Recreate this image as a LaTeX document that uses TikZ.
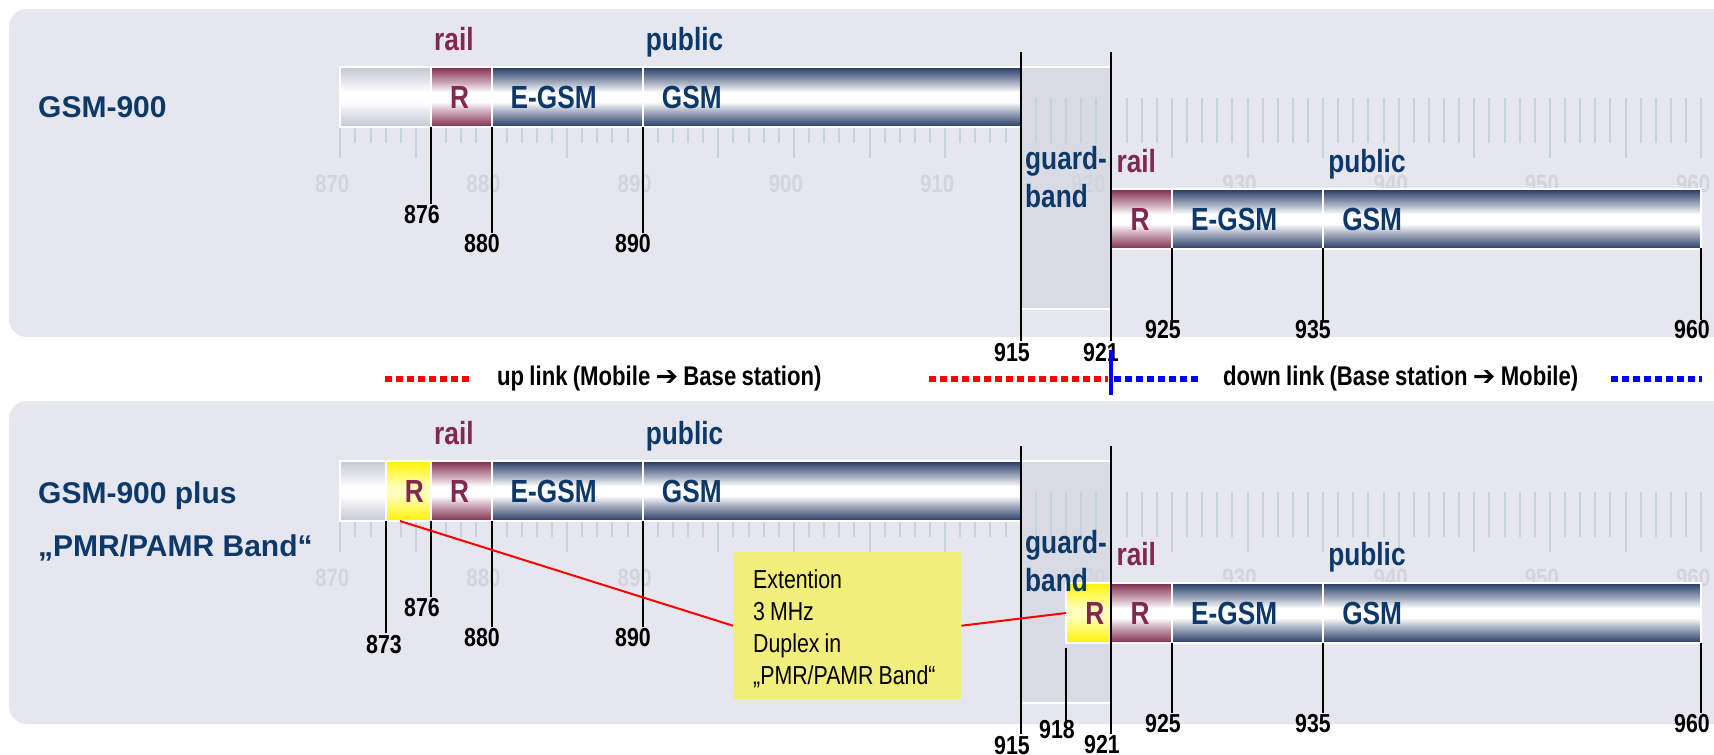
\documentclass[tikz,border=0pt]{standalone}
\usepackage{fontspec}
\setmainfont{Liberation Sans}
\newfontfamily\narrowfont[FakeStretch=0.82,WordSpace=0.85]{Liberation Sans}
\newfontfamily\symfont{DejaVu Sans}
\usetikzlibrary{calc}

\definecolor{panelbg}{RGB}{229,230,238}
\definecolor{guardbg}{RGB}{216,219,228}
\definecolor{navytext}{RGB}{12,56,106}
\definecolor{maroontext}{RGB}{130,40,80}
\definecolor{navydark}{RGB}{35,55,100}
\definecolor{maroondark}{RGB}{128,40,75}
\definecolor{graydark}{RGB}{196,199,212}
\definecolor{yel}{RGB}{255,242,0}
\definecolor{yelmid}{RGB}{255,255,185}
\definecolor{tickc}{RGB}{196,210,222}
\definecolor{scalec}{RGB}{212,213,220}
\definecolor{calloutc}{RGB}{242,238,122}
\definecolor{legblue}{RGB}{0,0,255}

\newcommand\mkshade[3]{\pgfdeclareverticalshading{#1}{100bp}{color(0bp)=(#2); color(25bp)=(#2); color(28bp)=(#2!85!#3); color(38bp)=(#2!40!#3); color(46bp)=(#3); color(54bp)=(#3); color(62bp)=(#2!40!#3); color(72bp)=(#2!85!#3); color(75bp)=(#2); color(100bp)=(#2)}}
\mkshade{navyS}{navydark}{white}
\mkshade{maroonS}{maroondark}{white}
\mkshade{grayS}{graydark}{white}
\mkshade{yelS}{yel}{yelmid}

% segment box: name, f1, f2, ytop, shading
\newcommand\bseg[5]{\node[segbox, shading=#5, minimum width={fx(#3)-fx(#2)}, anchor=north west] (#1) at ({fx(#2)},#4) {};}
% segment label: name, f1, ytop, colour, text
\newcommand\slab[5]{\node[seglabel, text=#4] (#1) at ({fx(#2)+19},{#3+41.5}) {#5};}
% marker line: f, y1, y2
\newcommand\mline[3]{\draw[marker] ({fx(#1)},#2) -- ({fx(#1)},#3);}

\begin{document}
\begin{tikzpicture}[x=1pt,y=-1pt,
  declare function={fx(\f)=340.3+(\f-870)*15.12;},
  panel/.style={fill=panelbg, rounded corners=18pt},
  segbox/.style={draw=white, line width=2pt, minimum height=60pt, inner sep=0pt, outer sep=0pt},
  seglabel/.style={font=\narrowfont\bfseries\fontsize{32}{38}\selectfont, inner sep=0pt, anchor=base west},
  toplabel/.style={font=\narrowfont\bfseries\fontsize{32}{38}\selectfont, inner sep=0pt, anchor=base west},
  title/.style={font=\bfseries\fontsize{30}{36}\selectfont, text=navytext, inner sep=0pt, anchor=base west},
  numlabel/.style={font=\narrowfont\bfseries\fontsize{26}{30}\selectfont, inner sep=0pt},
  scalelabel/.style={font=\narrowfont\bfseries\fontsize{25}{30}\selectfont, text=scalec, inner sep=0pt},
  tickline/.style={draw=tickc, line width=2pt},
  marker/.style={draw=black, line width=2pt},
  legtext/.style={font=\narrowfont\bfseries\fontsize{27}{32}\selectfont, inner sep=0pt, anchor=west},
  reddots/.style={draw=red, line width=6pt, dash pattern=on 7pt off 4pt},
  bluedots/.style={draw=legblue, line width=6pt, dash pattern=on 7pt off 4pt},
  redline/.style={draw=red, line width=2pt},
  calloutbox/.style={fill=calloutc, minimum width=228pt, minimum height=147pt, inner sep=0pt},
  callouttxt/.style={align=left, inner sep=0pt, font=\narrowfont\fontsize{26}{32}\selectfont}
]
\clip (0,0) rectangle (1714,755);
\fill[white] (0,0) rectangle (1714,755);

% panels
\path[panel] (9,9) rectangle (1760,337);
\path[panel] (9,401) rectangle (1760,724);

\foreach \oy in {0,394}{
  % guard band
  \path[fill=guardbg] ({fx(915)},{67+\oy}) rectangle ({fx(921)},{309+\oy});
  \draw[white, line width=2pt] ({fx(915)},{67+\oy}) -- ({fx(921)},{67+\oy});
  \draw[white, line width=2pt] ({fx(915)},{309+\oy}) -- ({fx(921)},{309+\oy});
  % ticks
  \foreach \f in {870,...,960}{
    \pgfmathsetmacro\ylow{(mod(\f,5)==0 && (\f<916 || \f>920)) ? 158 : 143}
    \draw[tickline] ({fx(\f)},{98+\oy}) -- ({fx(\f)},{\ylow+\oy});
  }
  % scale labels
  \foreach \f in {870,880,...,960}{
    \node[scalelabel] (sl\f-\oy) at ({fx(\f)-8},{184+\oy}) {\f};
  }
}

% ---------------- top panel ----------------
\node[title] (t1) at (38,117) {GSM-900};

\bseg{u1g}{870}{876}{67}{grayS}
\bseg{u1r}{876}{880}{67}{maroonS}
\bseg{u1e}{880}{890}{67}{navyS}
\bseg{u1s}{890}{915}{67}{navyS}
\slab{u1rt}{876}{67}{maroontext}{R}
\slab{u1et}{880}{67}{navytext}{E-GSM}
\slab{u1st}{890}{67}{navytext}{GSM}
\node[toplabel, text=maroontext] (u1rail) at ({fx(876)+3},50) {rail};
\node[toplabel, text=navytext] (u1pub) at ({fx(890)+3},50) {public};

\bseg{d1r}{921}{925}{189}{maroonS}
\bseg{d1e}{925}{935}{189}{navyS}
\bseg{d1s}{935}{960}{189}{navyS}
\slab{d1rt}{921}{189}{maroontext}{R}
\slab{d1et}{925}{189}{navytext}{E-GSM}
\slab{d1st}{935}{189}{navytext}{GSM}
\node[toplabel, text=maroontext] (d1rail) at ({fx(921)+5},172) {rail};
\node[toplabel, text=navytext] (d1pub) at ({fx(935)+5},172) {public};

\node[toplabel, text=navytext] (g1a) at (1025,169) {guard-};
\node[toplabel, text=navytext] (g1b) at (1025,207) {band};

\mline{876}{127}{204}
\mline{880}{127}{233}
\mline{890}{127}{233}
\mline{915}{52}{341}
\mline{921}{52}{341}
\mline{925}{248}{320}
\mline{935}{248}{320}
\mline{960}{248}{320}
\node[numlabel] (n1a) at (422,215) {876};
\node[numlabel] (n1b) at (482,244) {880};
\node[numlabel] (n1c) at (633,244) {890};
\node[numlabel] (n1d) at (1012,353) {915};
\node[numlabel] (n1e) at (1101,353) {921};
\node[numlabel] (n1f) at (1163,330) {925};
\node[numlabel] (n1g) at (1313,330) {935};
\node[numlabel] (n1h) at (1692,330) {960};

% ---------------- legend ----------------
\draw[reddots] (385,379) -- (471,379);
\node[legtext] (up) at (497,379) {up link (Mobile {\symfont ➔} Base station)};
\draw[reddots] (929,379) -- (1108,379);
\draw[bluedots] (1114,379) -- (1198,379);
\draw[legblue, line width=4pt] ({fx(921)},350) -- ({fx(921)},395);
\node[legtext] (down) at (1223,379) {down link (Base station {\symfont ➔} Mobile)};
\draw[bluedots] (1611,379) -- (1702,379);

% ---------------- bottom panel ----------------
\node[title] (t2a) at (38,503) {GSM-900 plus};
\node[title] (t2b) at (38,556) {„PMR/PAMR Band“};

\bseg{u2g}{870}{873}{461}{grayS}
\bseg{u2y}{873}{876}{461}{yelS}
\bseg{u2r}{876}{880}{461}{maroonS}
\bseg{u2e}{880}{890}{461}{navyS}
\bseg{u2s}{890}{915}{461}{navyS}
\slab{u2yt}{873}{461}{maroontext}{R}
\slab{u2rt}{876}{461}{maroontext}{R}
\slab{u2et}{880}{461}{navytext}{E-GSM}
\slab{u2st}{890}{461}{navytext}{GSM}
\node[toplabel, text=maroontext] (u2rail) at ({fx(876)+3},444) {rail};
\node[toplabel, text=navytext] (u2pub) at ({fx(890)+3},444) {public};

\bseg{d2y}{918}{921}{583}{yelS}
\bseg{d2r}{921}{925}{583}{maroonS}
\bseg{d2e}{925}{935}{583}{navyS}
\bseg{d2s}{935}{960}{583}{navyS}
\slab{d2yt}{918}{583}{maroontext}{R}
\slab{d2rt}{921}{583}{maroontext}{R}
\slab{d2et}{925}{583}{navytext}{E-GSM}
\slab{d2st}{935}{583}{navytext}{GSM}
\node[toplabel, text=maroontext] (d2rail) at ({fx(921)+5},565) {rail};
\node[toplabel, text=navytext] (d2pub) at ({fx(935)+5},565) {public};

\node[toplabel, text=navytext] (g2a) at (1025,553) {guard-};
\node[toplabel, text=navytext] (g2b) at (1025,591) {band};

\mline{873}{521}{633}
\mline{876}{521}{597}
\mline{880}{521}{627}
\mline{890}{521}{627}
\mline{915}{446}{734}
\mline{918}{648}{721}
\mline{921}{446}{734}
\mline{925}{643}{713}
\mline{935}{643}{713}
\mline{960}{643}{713}
\node[numlabel] (n2a) at (384,645) {873};
\node[numlabel] (n2b) at (422,608) {876};
\node[numlabel] (n2c) at (482,638) {880};
\node[numlabel] (n2d) at (633,638) {890};
\node[numlabel] (n2e) at (1012,746) {915};
\node[numlabel] (n2f) at (1057,730) {918};
\node[numlabel] (n2g) at (1102,745) {921};
\node[numlabel] (n2h) at (1163,724) {925};
\node[numlabel] (n2i) at (1313,724) {935};
\node[numlabel] (n2j) at (1692,724) {960};

% callout
\node[calloutbox, anchor=north west] (callout) at (733,552) {};
\node[callouttxt, anchor=north west] (callouttext) at (753,569) {Extention\\3 MHz\\Duplex in\\„PMR/PAMR Band“};
\coordinate (cstart) at (400,521);
\draw[redline] (cstart) -- (callout.west);
\draw[redline] (callout.east) -- (d2y.west);
\end{tikzpicture}
\end{document}
